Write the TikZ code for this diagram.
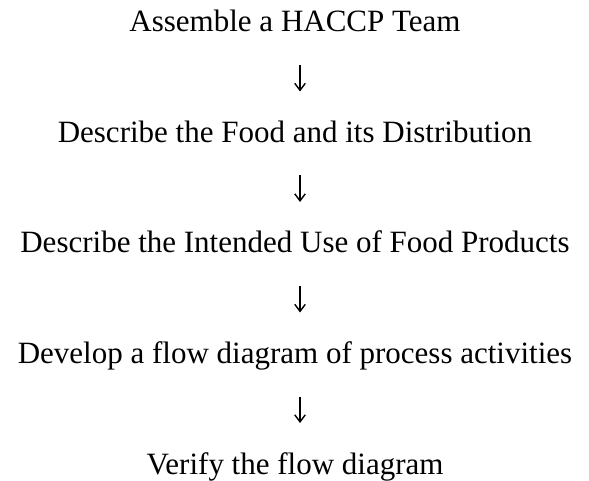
\documentclass[tikz,border=0pt]{standalone}
\usepackage{fontspec}
\setmainfont{Liberation Serif}
\usetikzlibrary{arrows.meta}
\begin{document}
\begin{tikzpicture}[x=1pt,y=1pt,
  steptext/.style={anchor=base,inner sep=0pt,font=\fontsize{31}{37}\selectfont},
  flow/.style={line width=1.4pt,-{Straight Barb[length=7pt,width=10.5pt,line width=1.4pt]},
    shorten <=33pt,shorten >=51pt}]
\useasboundingbox (0,0) rectangle (589,480);
\node[steptext] (t1) at (295,448)   {Assemble a HACCP Team};
\node[steptext] (t2) at (295,337.5) {Describe the Food and its Distribution};
\node[steptext] (t3) at (295,227)   {Describe the Intended Use of Food Products};
\node[steptext] (t4) at (295,116.5) {Develop a flow diagram of process activities};
\node[steptext] (t5) at (295,6)     {Verify the flow diagram};
\foreach \a/\b in {t1/t2,t2/t3,t3/t4,t4/t5}
  \draw[flow] ([xshift=5pt]\a.base) -- ([xshift=5pt]\b.base);
\end{tikzpicture}
\end{document}
